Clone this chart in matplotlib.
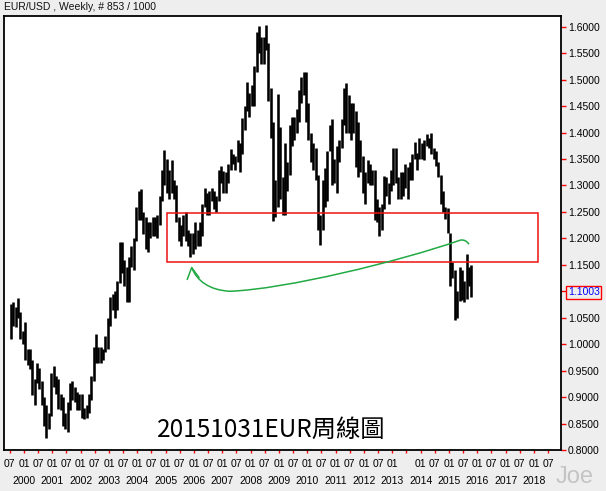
import numpy as np
import pandas as pd
import matplotlib
matplotlib.use("Agg")
import matplotlib.pyplot as plt
from matplotlib.path import Path
from matplotlib.patches import PathPatch, Rectangle

# ---------------- data ----------------
header = "EUR/USD , Weekly, # 853 / 1000"
caption = "20151031EUR周線圖"
watermark = "Joe"

first_month = "1999-07"
last_month = "2015-10"

# monthly high / low (EUR/USD)
monthly_high = [
    # 1999 Jul-Dec
    1.0760, 1.0800, 1.0700, 1.0880, 1.0600, 1.0250,
    # 2000
    1.0410, 0.9900, 0.9900, 0.9700, 0.9350, 0.9650, 0.9550, 0.9300, 0.9000, 0.8850, 0.8700, 0.9450,
    # 2001
    0.9595, 0.9400, 0.9350, 0.9050, 0.9000, 0.8700, 0.8900, 0.9270, 0.9300, 0.9200, 0.9100, 0.9050,
    # 2002
    0.9050, 0.8800, 0.8850, 0.9050, 0.9400, 0.9950, 1.0200, 0.9950, 0.9950, 0.9900, 1.0150, 1.0500,
    # 2003
    1.0900, 1.0950, 1.1000, 1.1200, 1.1930, 1.1930, 1.1600, 1.1450, 1.1650, 1.1850, 1.2000, 1.2600,
    # 2004
    1.2900, 1.2930, 1.2500, 1.2400, 1.2300, 1.2300, 1.2400, 1.2400, 1.2450, 1.2800, 1.3300, 1.3667,
    # 2005
    1.3500, 1.3300, 1.3480, 1.3100, 1.3000, 1.2400, 1.2250, 1.2450, 1.2500, 1.2150, 1.2100, 1.2100,
    # 2006
    1.2300, 1.2150, 1.2300, 1.2650, 1.2950, 1.2850, 1.2900, 1.2950, 1.2900, 1.2800, 1.3300, 1.3370,
    # 2007
    1.3280, 1.3250, 1.3400, 1.3680, 1.3600, 1.3550, 1.3850, 1.3800, 1.4280, 1.4500, 1.4960, 1.4750,
    # 2008
    1.4900, 1.5250, 1.5900, 1.6020, 1.5800, 1.5800, 1.6038, 1.5700, 1.4850, 1.4200, 1.3100, 1.4720,
    # 2009
    1.4100, 1.3150, 1.3800, 1.3450, 1.4150, 1.4300, 1.4300, 1.4450, 1.4800, 1.5050, 1.5140, 1.5150,
    # 2010
    1.4550, 1.4000, 1.3800, 1.3700, 1.3200, 1.2450, 1.3100, 1.3330, 1.3650, 1.4150, 1.4250, 1.3500,
    # 2011
    1.3750, 1.3850, 1.4250, 1.4850, 1.4940, 1.4700, 1.4550, 1.4550, 1.4400, 1.4200, 1.3850, 1.3550,
    # 2012
    1.3250, 1.3480, 1.3400, 1.3300, 1.3300, 1.2750, 1.2600, 1.2650, 1.3170, 1.3150, 1.3050, 1.3300,
    # 2013
    1.3700, 1.3710, 1.3150, 1.3250, 1.3250, 1.3400, 1.3350, 1.3450, 1.3600, 1.3830, 1.3620, 1.3900,
    # 2014
    1.3800, 1.3850, 1.3970, 1.3900, 1.3990, 1.3700, 1.3650, 1.3450, 1.3200, 1.2900, 1.2600, 1.2570,
    # 2015 Jan-Oct
    1.2100, 1.1550, 1.1400, 1.1000, 1.1460, 1.1400, 1.1200, 1.1710, 1.1450, 1.1500,
]
monthly_low = [
    # 1999 Jul-Dec
    1.0100, 1.0350, 1.0320, 1.0500, 1.0100, 1.0000,
    # 2000
    0.9700, 0.9600, 0.9530, 0.9040, 0.8850, 0.9260, 0.9150, 0.8850, 0.8450, 0.8228, 0.8400, 0.8650,
    # 2001
    0.9200, 0.9050, 0.8780, 0.8750, 0.8450, 0.8400, 0.8344, 0.8750, 0.8950, 0.8900, 0.8750, 0.8750,
    # 2002
    0.8600, 0.8580, 0.8600, 0.8700, 0.8950, 0.9300, 0.9650, 0.9650, 0.9650, 0.9700, 0.9850, 0.9900,
    # 2003
    1.0350, 1.0650, 1.0500, 1.0650, 1.1150, 1.1350, 1.1100, 1.0800, 1.0800, 1.1450, 1.1400, 1.1950,
    # 2004
    1.2350, 1.2350, 1.2080, 1.1800, 1.1750, 1.2000, 1.2050, 1.2050, 1.2000, 1.2250, 1.2700, 1.3000,
    # 2005
    1.2850, 1.2750, 1.2850, 1.2750, 1.2300, 1.1950, 1.1850, 1.2050, 1.1950, 1.1850, 1.1640, 1.1700,
    # 2006
    1.1800, 1.1850, 1.1850, 1.2050, 1.2600, 1.2450, 1.2450, 1.2700, 1.2550, 1.2500, 1.2700, 1.3050,
    # 2007
    1.2860, 1.2850, 1.3050, 1.3300, 1.3400, 1.3300, 1.3450, 1.3260, 1.3600, 1.4050, 1.4400, 1.4300,
    # 2008
    1.4500, 1.4500, 1.5150, 1.5500, 1.5300, 1.5300, 1.5550, 1.4600, 1.3900, 1.2330, 1.2400, 1.2600,
    # 2009
    1.2750, 1.2450, 1.2450, 1.2900, 1.3200, 1.3750, 1.3850, 1.4000, 1.4200, 1.4550, 1.4700, 1.4200,
    # 2010
    1.3850, 1.3450, 1.3300, 1.3100, 1.2150, 1.1877, 1.2150, 1.2600, 1.2700, 1.3650, 1.3000, 1.3050,
    # 2011
    1.2850, 1.3450, 1.3700, 1.4150, 1.4000, 1.4000, 1.3850, 1.4000, 1.3350, 1.3150, 1.3250, 1.2850,
    # 2012
    1.2650, 1.3050, 1.3000, 1.3000, 1.2350, 1.2300, 1.2040, 1.2150, 1.2550, 1.2800, 1.2650, 1.2900,
    # 2013
    1.3000, 1.3050, 1.2750, 1.2750, 1.2800, 1.2950, 1.2750, 1.3100, 1.3100, 1.3500, 1.3300, 1.3500,
    # 2014
    1.3500, 1.3480, 1.3750, 1.3700, 1.3600, 1.3500, 1.3370, 1.3150, 1.2650, 1.2500, 1.2360, 1.2100,
    # 2015 Jan-Oct
    1.1100, 1.1250, 1.0460, 1.0500, 1.0820, 1.0830, 1.0800, 1.0850, 1.1100, 1.0900,
]
last_close = 1.1003

# y-axis price ticks
price_ticks = [0.80, 0.85, 0.90, 0.95, 1.00, 1.05, 1.15, 1.20, 1.25, 1.30,
               1.35, 1.40, 1.45, 1.50, 1.55, 1.60]
# x-axis: half-year ticks and year labels
half_year_ticks = np.arange(1999.5, 2018.51, 0.5)
year_labels = list(range(2000, 2019))
hidden_half_year = [2013.5]

# annotation: support/resistance zone and hand-drawn green arrow
zone_years = [2005.06, 2018.15]
zone_prices = [1.1545, 1.2475]
curve_x = [2005.919, 2006.106, 2006.565, 2007.271, 2009.212, 2013.271, 2015.388,
           2015.529, 2015.635, 2015.706]
curve_y = [1.1448, 1.1189, 1.1019, 1.1000, 1.1038, 1.1567, 1.1964,
           1.1983, 1.1946, 1.1889]
arrow_head_x = [2005.764, 2005.919, 2006.176]
arrow_head_y = [1.1227, 1.1448, 1.1259]

# ---------------- figure ----------------
BG = "#EEEEEE"
W, H, DPI = 606, 491, 100
fig = plt.figure(figsize=(W / DPI, H / DPI), dpi=DPI, facecolor=BG)
L, R, T, B = 4, 561, 16, 450
ax = fig.add_axes([L / W, 1 - B / H, (R - L) / W, (B - T) / H])
ax.set_facecolor("white")

months = pd.period_range(first_month, last_month, freq="M")
xm = months.year + (months.month - 0.5) / 12.0
ax.vlines(xm, monthly_low, monthly_high, color="black", linewidth=1.85)

ax.set_xlim(1999.294, 2018.955)
ax.set_ylim(0.80, 1.6202)

for s in ax.spines.values():
    s.set_color("black")
    s.set_linewidth(1.3)

font = "Liberation Sans"
# y axis on the right
ax.yaxis.tick_right()
yt = price_ticks + [last_close]
ax.set_yticks(yt)
ax.set_yticklabels(["%.4f" % v for v in yt], fontsize=7.5, family=font)
ax.tick_params(axis="y", which="major", direction="out", length=3.5, width=1,
               color="red", pad=1.5)
for lab in ax.get_yticklabels():
    if lab.get_text() == "%.4f" % last_close:
        lab.set_color("blue")
        lab.set_bbox(dict(boxstyle="square,pad=0.15", fc="none", ec="red", lw=1.0))

# x axis half-year ticks
hl = []
for v in half_year_ticks:
    if any(abs(v - h) < 1e-6 for h in hidden_half_year):
        hl.append("")
    else:
        hl.append("07" if abs(v % 1 - 0.5) < 1e-6 else "01")
ax.set_xticks(half_year_ticks)
ax.set_xticklabels(hl, fontsize=7.5, family=font)
ax.tick_params(axis="x", which="major", direction="out", length=2.5, width=1,
               color="red", pad=4)
ax.xaxis.remove_overlapping_locs = False
ax.set_xticks([float(y) for y in year_labels], minor=True)
ax.set_xticklabels([str(y) for y in year_labels], minor=True, fontsize=7.5, family=font)
ax.tick_params(axis="x", which="minor", length=0, pad=19)

# zone rectangle
ax.add_patch(Rectangle((zone_years[0], zone_prices[0]), zone_years[1] - zone_years[0],
                       zone_prices[1] - zone_prices[0], fill=False, ec="#EE1111", lw=1.1,
                       zorder=5))
# green curve (cubic bezier segments)
verts = list(zip(curve_x, curve_y))
codes = [Path.MOVETO] + [Path.CURVE4] * 9
ax.add_patch(PathPatch(Path(verts, codes), fill=False, ec="#22AA44", lw=1.1, zorder=5))
ax.plot(arrow_head_x, arrow_head_y, color="#22AA44", lw=1.1, zorder=5)

# texts
fig.text(4 / W, 1 - 10 / H, header, fontsize=7.5, family=font, va="baseline",
         ha="left", color="#111111")
ax.text((157 - L) / (R - L), (B - 437) / (B - T), caption, transform=ax.transAxes,
        fontsize=17.5, family=["Noto Sans CJK TC", "DejaVu Sans"], va="baseline", ha="left",
        color="black")
fig.text(575 / W, 1 - 483 / H, watermark, fontsize=17, family=font, color="#C4C4C4",
         ha="center", va="baseline")

fig.savefig("out.png", dpi=DPI, facecolor=BG)
